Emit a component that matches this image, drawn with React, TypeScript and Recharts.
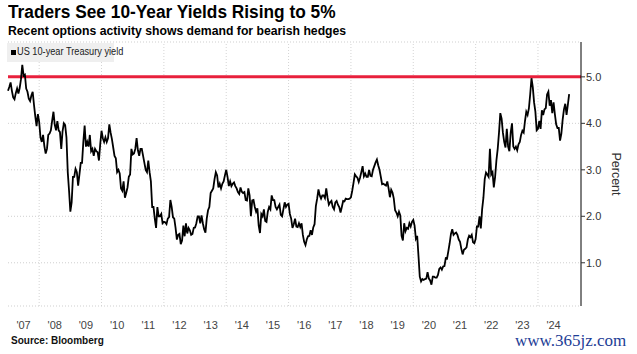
import { LineChart, Line, XAxis, YAxis, CartesianGrid, ReferenceLine } from 'recharts';

// US 10-year Treasury yield, two readings per month (start / mid-month), percent
const startYear = 2007;
const y2007 = [4.70, 4.78, 4.88, 4.70, 4.56, 4.52, 4.65, 4.75, 4.64, 4.76, 4.95, 5.26, 5.03, 5.05, 4.75, 4.68, 4.53, 4.48, 4.60, 4.68, 4.40, 4.15, 3.94, 4.20];
const y2008 = [4.03, 3.70, 3.60, 3.75, 3.51, 3.35, 3.45, 3.75, 3.78, 3.85, 4.06, 4.25, 3.97, 3.85, 4.05, 3.85, 3.81, 3.45, 3.83, 4.00, 3.96, 3.70, 2.95, 2.55];
const y2009 = [2.10, 2.30, 2.85, 2.85, 3.02, 2.95, 2.66, 2.90, 3.15, 3.15, 3.60, 3.95, 3.50, 3.60, 3.50, 3.75, 3.40, 3.45, 3.30, 3.45, 3.40, 3.38, 3.20, 3.55];
const y2010 = [3.84, 3.68, 3.60, 3.70, 3.60, 3.68, 3.98, 3.80, 3.66, 3.48, 3.30, 3.25, 2.95, 3.00, 2.92, 2.60, 2.55, 2.75, 2.40, 2.50, 2.62, 2.85, 2.90, 3.45];
const y2011 = [3.33, 3.35, 3.45, 3.68, 3.42, 3.30, 3.45, 3.45, 3.30, 3.15, 3.00, 2.95, 3.20, 2.95, 2.75, 2.20, 2.20, 1.95, 1.75, 2.20, 2.00, 2.00, 2.05, 1.85];
const y2012 = [1.88, 1.87, 1.83, 1.95, 1.98, 2.35, 2.20, 1.98, 1.95, 1.75, 1.50, 1.60, 1.62, 1.40, 1.48, 1.80, 1.57, 1.85, 1.63, 1.75, 1.70, 1.60, 1.62, 1.75];
const y2013 = [1.76, 1.85, 2.00, 2.00, 1.85, 2.02, 1.85, 1.72, 1.65, 1.95, 2.13, 2.20, 2.50, 2.55, 2.60, 2.80, 2.95, 2.88, 2.62, 2.70, 2.60, 2.70, 2.75, 2.88];
const y2014 = [3.00, 2.85, 2.65, 2.75, 2.65, 2.70, 2.73, 2.65, 2.60, 2.52, 2.48, 2.62, 2.53, 2.50, 2.52, 2.35, 2.34, 2.60, 2.45, 2.00, 2.34, 2.35, 2.20, 2.10];
const y2015 = [2.17, 1.80, 1.64, 2.05, 2.00, 2.15, 1.90, 1.88, 2.10, 2.20, 2.15, 2.45, 2.35, 2.35, 2.20, 2.15, 2.20, 2.25, 2.03, 2.00, 2.15, 2.30, 2.20, 2.25];
const y2016 = [2.27, 2.05, 1.95, 1.75, 1.83, 1.95, 1.78, 1.77, 1.85, 1.77, 1.85, 1.60, 1.45, 1.38, 1.50, 1.57, 1.58, 1.70, 1.60, 1.76, 1.83, 2.22, 2.38, 2.58];
const y2017 = [2.45, 2.38, 2.45, 2.45, 2.39, 2.60, 2.40, 2.25, 2.30, 2.33, 2.20, 2.15, 2.30, 2.33, 2.25, 2.20, 2.08, 2.20, 2.33, 2.32, 2.38, 2.37, 2.37, 2.38];
const y2018 = [2.41, 2.55, 2.72, 2.90, 2.86, 2.83, 2.74, 2.83, 2.95, 3.08, 2.86, 2.92, 2.85, 2.85, 3.00, 2.87, 2.86, 3.00, 3.08, 3.16, 3.22, 3.10, 3.00, 2.85];
const y2019 = [2.69, 2.70, 2.68, 2.66, 2.75, 2.60, 2.41, 2.57, 2.51, 2.38, 2.13, 2.08, 2.00, 2.10, 2.02, 1.58, 1.48, 1.85, 1.68, 1.75, 1.73, 1.85, 1.78, 1.88];
const y2020 = [1.92, 1.80, 1.52, 1.58, 1.15, 0.70, 0.60, 0.65, 0.63, 0.65, 0.66, 0.80, 0.66, 0.62, 0.53, 0.70, 0.70, 0.68, 0.68, 0.74, 0.87, 0.90, 0.85, 0.92];
const y2021 = [0.93, 1.10, 1.09, 1.25, 1.42, 1.62, 1.72, 1.60, 1.63, 1.65, 1.60, 1.50, 1.45, 1.30, 1.18, 1.28, 1.30, 1.33, 1.50, 1.58, 1.55, 1.60, 1.44, 1.42];
const y2022 = [1.51, 1.78, 1.78, 2.00, 1.74, 2.15, 2.40, 2.80, 2.94, 2.90, 2.85, 3.45, 2.90, 2.95, 2.62, 2.85, 3.20, 3.45, 3.80, 4.22, 4.10, 3.80, 3.60, 3.48];
const y2023 = [3.88, 3.50, 3.40, 3.80, 4.00, 3.50, 3.45, 3.50, 3.42, 3.55, 3.60, 3.75, 3.84, 3.80, 4.05, 4.25, 4.18, 4.32, 4.62, 4.97, 4.78, 4.45, 4.25, 3.85];
const y2024 = [3.88, 4.05, 3.88, 4.28, 4.18, 4.30, 4.33, 4.62, 4.68, 4.38, 4.50, 4.22, 4.45, 4.20, 3.98, 3.90, 3.90, 3.63, 3.78, 4.08, 4.30, 4.42, 4.18, 4.40];
const y2025 = [4.63];

const yearSeries = [y2007, y2008, y2009, y2010, y2011, y2012, y2013, y2014, y2015, y2016, y2017, y2018, y2019, y2020, y2021, y2022, y2023, y2024, y2025];

const labelYears = [2007, 2008, 2009, 2010, 2011, 2012, 2013, 2014, 2015, 2016, 2017, 2018, 2019, 2020, 2021, 2022, 2023, 2024];
const gridYears = [2008, 2010, 2012, 2014, 2016, 2018, 2020, 2022, 2024];
const yTicks = [1, 2, 3, 4, 5];
const target = 5;

const data = yearSeries.flatMap((vals, k) =>
  vals.map((v, i) => ({ t: startYear + k + i / 24, yld: v }))
);

const font = '"Liberation Sans", Arial, sans-serif';

export default function App() {
  return (
    <div style={{ position: 'absolute', left: 0, top: 0, width: 637, height: 354, background: '#fff', fontFamily: font, overflow: 'hidden' }}>
      <div style={{ position: 'absolute', left: 8, top: 2, fontSize: 18, fontWeight: 700, color: '#000', whiteSpace: 'nowrap', transform: 'scaleX(0.96)', transformOrigin: 'left center' }}>
        Traders See 10-Year Yields Rising to 5%
      </div>
      <div style={{ position: 'absolute', left: 8, top: 23, fontSize: 13, fontWeight: 700, color: '#000', whiteSpace: 'nowrap', transform: 'scaleX(0.94)', transformOrigin: 'left center' }}>
        Recent options activity shows demand for bearish hedges
      </div>

      <LineChart width={637} height={354} data={data} margin={{ top: 42, right: 16, bottom: 28, left: 8 }} style={{ position: 'absolute', left: 0, top: 0 }}>
        <CartesianGrid vertical={false} stroke="#cfcfcf" strokeDasharray="1 2" />
        {gridYears.map(y => (
          <ReferenceLine key={y} x={y} stroke="#d4d4d4" strokeDasharray="1 2" />
        ))}
        <XAxis
          type="number"
          dataKey="t"
          domain={[2007, 2025.38]}
          ticks={labelYears.map(y => y + 0.5)}
          interval={0}
          tickFormatter={v => `'${String(Math.floor(v)).slice(2)}`}
          axisLine={false}
          tickLine={false}
          tickSize={0}
          tickMargin={15}
          height={20}
          tick={{ fill: '#444', fontSize: 11, fontFamily: font }}
        />
        <YAxis
          orientation="right"
          domain={[0.07, 5.75]}
          ticks={yTicks}
          tickFormatter={v => v.toFixed(1)}
          axisLine={{ stroke: '#000' }}
          tickLine={{ stroke: '#333' }}
          tickSize={4}
          tickMargin={1}
          width={40}
          tick={{ fill: '#333', fontSize: 11, fontFamily: font }}
        />
        <ReferenceLine y={target} stroke="#e8203c" strokeWidth={3} />
        <Line type="linear" dataKey="yld" stroke="#000" strokeWidth={1.8} dot={false} isAnimationActive={false} />
      </LineChart>

      <div style={{ position: 'absolute', left: 616, top: 174, transform: 'translate(-50%, -50%) rotate(90deg)', fontSize: 12.5, color: '#333', whiteSpace: 'nowrap' }}>
        Percent
      </div>

      <div style={{ position: 'absolute', left: 7, top: 43, width: 107, height: 19, background: '#efefef' }}>
        <span style={{ position: 'absolute', left: 4, top: 7, width: 5, height: 5, background: '#000' }} />
        <span style={{ position: 'absolute', left: 10, top: 3, fontSize: 10, color: '#222', whiteSpace: 'nowrap', transform: 'scaleX(0.92)', transformOrigin: 'left center' }}>
          US 10-year Treasury yield
        </span>
      </div>

      <div style={{ position: 'absolute', left: 11, top: 335, fontSize: 10, fontWeight: 700, color: '#111', whiteSpace: 'nowrap' }}>
        Source: Bloomberg
      </div>
      <div style={{ position: 'absolute', left: 515, top: 332, fontSize: 17, lineHeight: 1, fontFamily: '"Liberation Serif", serif', color: '#1d3d96', whiteSpace: 'nowrap' }}>
        www.365jz.com
      </div>
    </div>
  );
}
